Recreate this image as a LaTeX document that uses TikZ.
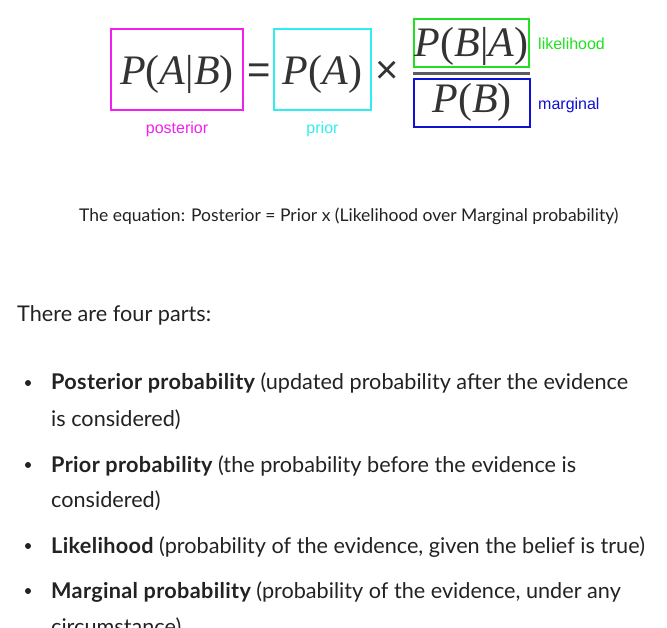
\documentclass[tikz,border=0pt]{standalone}
\usepackage{fontspec}
\setmainfont{Lato}
\newfontfamily\eqfont{Liberation Serif}
\newfontfamily\tagfont{Liberation Sans}
\newcommand\bayesterm[1]{{\bfseries\addfontfeature{LetterSpace=1.5}#1}}

\definecolor{postcol}{HTML}{F020F0}
\definecolor{priorcol}{HTML}{30EEEE}
\definecolor{likecol}{HTML}{20E020}
\definecolor{margcol}{HTML}{1010D0}
\definecolor{ink}{HTML}{222222}
\definecolor{eqink}{HTML}{333333}

\tikzset{
    termbox/.style={draw=#1, line width=2.5pt, inner sep=0pt, text=eqink,
        font=\eqfont\fontsize{42}{42}\selectfont},
    termtag/.style={text=#1, inner sep=0pt, anchor=base,
        font=\tagfont\fontsize{16}{16}\selectfont},
    eqsign/.style={text=eqink, inner sep=0pt, anchor=base,
        font=\tagfont\fontsize{40}{40}\selectfont},
    body/.style={text=ink, inner sep=0pt, anchor=base west,
        font=\fontsize{21.65}{21.65}\selectfont},
    dot/.style={circle, fill=ink, inner sep=0pt, minimum size=6pt},
}

\begin{document}
\begin{tikzpicture}[x=1pt, y=-1pt]
\useasboundingbox (0,0) rectangle (667,628);
\clip (0,0) rectangle (667,628);

% the equation
\node [termbox=postcol, minimum width=132pt, text height=56pt, text depth=25pt, anchor=base]
    (posterior) at (177,85) {\textit{P}(\textit{A}|\textit{B})};
\node [eqsign] (equals) at (259,84) {=};
\node [termbox=priorcol, minimum width=97pt, text height=56pt, text depth=25pt, anchor=base]
    (prior) at (322.5,85) {\textit{P}(\textit{A})};
\node [eqsign] (times) at (387,84) {\texttimes};
\node [termbox=likecol, minimum width=115pt, text height=38pt, text depth=10pt, anchor=base]
    (likelihood) at (471.5,57) {\textit{P}(\textit{B}|\textit{A})};
\node [termbox=margcol, minimum width=116pt, text height=34pt, text depth=14pt, anchor=base]
    (marginal) at (472,113) {\textit{P}(\textit{B})};
\draw [eqink!80, line width=3pt] (likelihood.west |- 0,73.5) -- (likelihood.east |- 0,73.5);

\node [termtag=postcol] (posteriortag) at (posterior.south |- 0,134) {posterior};
\node [termtag=priorcol] (priortag) at (prior.south |- 0,134) {prior};
\node [termtag=likecol, anchor=base west] (liketag) at (538,50) {likelihood};
\node [termtag=margcol, anchor=base west] (margtag) at (538,110) {marginal};

% caption
\node [body, font=\fontsize{17.5}{17.5}\selectfont] (caption) at (79,222)
    {The equation: Posterior = Prior x (Likelihood over Marginal probability)};

% the four parts
\node [body] (intro) at (17,322) {There are four parts:};

\node [dot] (dot1) at (28,383) {};
\node [body] (item1a) at (51,390) {\bayesterm{Posterior probability} (updated probability after the evidence};
\node [body] (item1b) at (51,426) {is considered)};
\node [dot] (dot2) at (28,465) {};
\node [body] (item2a) at (51,472) {\bayesterm{Prior probability} (the probability before the evidence is};
\node [body] (item2b) at (51,507) {considered)};
\node [dot] (dot3) at (28,546) {};
\node [body] (item3a) at (51,553) {\bayesterm{Likelihood} (probability of the evidence, given the belief is true)};
\node [dot] (dot4) at (28,591) {};
\node [body] (item4a) at (51,598) {\bayesterm{Marginal probability} (probability of the evidence, under any};
\node [body] (item4b) at (51,634) {circumstance)};
\end{tikzpicture}
\end{document}
